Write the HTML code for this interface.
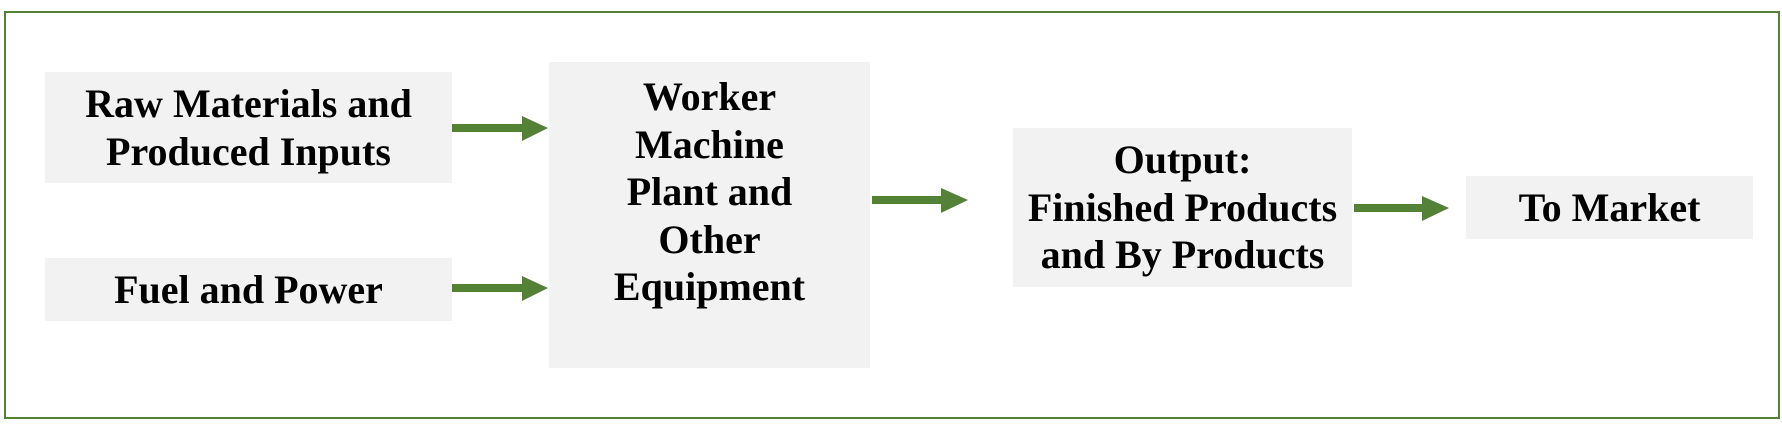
<!DOCTYPE html>
<html><head><meta charset="utf-8"><style>
body{margin:0;width:1782px;height:427px;background:#fff;position:relative;overflow:hidden;font-family:"Liberation Serif",serif;font-weight:bold;}
.frame{position:absolute;left:4px;top:11px;width:1772px;height:404px;border:2px solid #538135;}
.b{position:absolute;background:#f2f2f2;display:flex;align-items:center;justify-content:center;text-align:center;font-size:40px;line-height:47.6px;color:#000;}
svg{position:absolute;left:0;top:0;}
</style></head><body>
<div class="frame"></div>
<div class="b" style="left:45px;top:72px;width:407px;height:111px;">Raw Materials and<br>Produced Inputs</div>
<div class="b" style="left:45px;top:258px;width:407px;height:63px;">Fuel and Power</div>
<div class="b" style="left:549px;top:62px;width:321px;height:306px;padding-bottom:46px;box-sizing:border-box;">Worker<br>Machine<br>Plant and<br>Other<br>Equipment</div>
<div class="b" style="left:1013px;top:128px;width:339px;height:159px;">Output:<br>Finished Products<br>and By Products</div>
<div class="b" style="left:1466px;top:176px;width:287px;height:63px;">To Market</div>
<svg width="1782" height="427">
<g fill="#538135">
<polygon points="452,124 522,124 522,116 548,128 522,141 522,132 452,132"/>
<polygon points="452,284 522,284 522,276 548,288 522,301 522,292 452,292"/>
<polygon points="872,196 941,196 941,188 968,200 941,213 941,204 872,204"/>
<polygon points="1354,204 1422,204 1422,196 1449,208 1422,221 1422,212 1354,212"/>
</g>
</svg>
</body></html>
